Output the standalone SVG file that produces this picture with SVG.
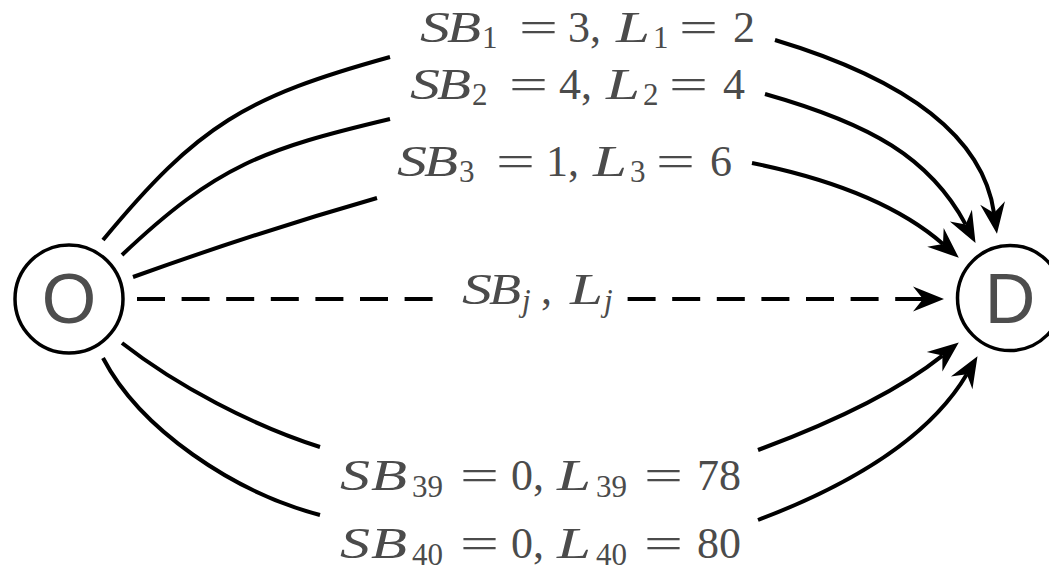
<svg xmlns="http://www.w3.org/2000/svg" width="1049" height="570" viewBox="0 0 1049 570">
<style>
.node{fill:#fff;stroke:#000;stroke-width:3.5}
.nl{font-family:"Liberation Sans",Arial,sans-serif;font-size:70px;fill:#4d4d4d;text-anchor:middle}
.e{fill:none;stroke:#000;stroke-width:4}
.d{stroke-dasharray:28 16.6}
.m{font-family:"Liberation Serif","Times New Roman",serif;font-size:44px;fill:#4b4b4b}
.i{font-style:italic}
.s{font-size:31px}
</style>
<defs>
<marker id="arr" markerUnits="userSpaceOnUse" markerWidth="40" markerHeight="30" viewBox="0 -15 40 30" refX="10" refY="0" orient="auto" overflow="visible">
<path d="M31,0 L0,-12.5 L10,0 L0,12.5 Z" fill="#000"/>
</marker>
</defs>
<g id="connectors">
<path class="e" marker-end="url(#arr)" d="M103,240 C199,124 246,97 390,57 M775,40 Q978,101 994,213"/>
<path class="e" marker-end="url(#arr)" d="M122,255 C217,165 264,149 390,119 M765,94 C871,124 930,158 965.6,224.4"/>
<path class="e" marker-end="url(#arr)" d="M133,277 Q255,233 377,198 M752,163 Q880,189 943,244"/>
<path class="e d" marker-end="url(#arr)" d="M137,299 H433 M627.6,299 H923"/>
<path class="e" marker-end="url(#arr)" d="M122,343 C177,386 253.5,426 320,447 M758,450 Q882,404 942.4,355.6"/>
<path class="e" marker-end="url(#arr)" d="M103,358 C140,429 233,492 320,515 M758,520 Q916,460 966.8,374.2"/>
</g>
<g id="labels">
<text class="m"><tspan class="i" x="420" y="42" textLength="30" lengthAdjust="spacingAndGlyphs">S</tspan><tspan class="i" x="447" textLength="34" lengthAdjust="spacingAndGlyphs">B</tspan><tspan class="s" x="482" y="48">1</tspan><tspan x="519" y="42" textLength="39" lengthAdjust="spacingAndGlyphs">=</tspan><tspan x="568">3,</tspan><tspan class="i" x="616" textLength="34" lengthAdjust="spacingAndGlyphs">L</tspan><tspan class="s" x="653" y="48">1</tspan><tspan x="679" y="42" textLength="39" lengthAdjust="spacingAndGlyphs">=</tspan><tspan x="733">2</tspan></text>
<text class="m"><tspan class="i" x="410" y="99" textLength="30" lengthAdjust="spacingAndGlyphs">S</tspan><tspan class="i" x="437" textLength="34" lengthAdjust="spacingAndGlyphs">B</tspan><tspan class="s" x="472" y="105">2</tspan><tspan x="509" y="99" textLength="39" lengthAdjust="spacingAndGlyphs">=</tspan><tspan x="559">4,</tspan><tspan class="i" x="606" textLength="34" lengthAdjust="spacingAndGlyphs">L</tspan><tspan class="s" x="643" y="105">2</tspan><tspan x="669" y="99" textLength="39" lengthAdjust="spacingAndGlyphs">=</tspan><tspan x="723">4</tspan></text>
<text class="m"><tspan class="i" x="397" y="176" textLength="30" lengthAdjust="spacingAndGlyphs">S</tspan><tspan class="i" x="424" textLength="34" lengthAdjust="spacingAndGlyphs">B</tspan><tspan class="s" x="459" y="182">3</tspan><tspan x="496" y="176" textLength="39" lengthAdjust="spacingAndGlyphs">=</tspan><tspan x="546">1,</tspan><tspan class="i" x="593" textLength="34" lengthAdjust="spacingAndGlyphs">L</tspan><tspan class="s" x="630" y="182">3</tspan><tspan x="656" y="176" textLength="39" lengthAdjust="spacingAndGlyphs">=</tspan><tspan x="710">6</tspan></text>
<text class="m"><tspan class="i" x="462" y="304" textLength="30" lengthAdjust="spacingAndGlyphs">S</tspan><tspan class="i" x="489" textLength="32" lengthAdjust="spacingAndGlyphs">B</tspan><tspan class="s i" x="522" y="311">j</tspan><tspan x="541" y="304">,</tspan><tspan class="i" x="570" textLength="33" lengthAdjust="spacingAndGlyphs">L</tspan><tspan class="s i" x="604" y="311">j</tspan></text>
<text class="m"><tspan class="i" x="340" y="490" textLength="30" lengthAdjust="spacingAndGlyphs">S</tspan><tspan class="i" x="371" textLength="36" lengthAdjust="spacingAndGlyphs">B</tspan><tspan class="s" x="412" y="497">39</tspan><tspan x="460" y="490" textLength="39" lengthAdjust="spacingAndGlyphs">=</tspan><tspan x="511">0,</tspan><tspan class="i" x="557" textLength="34" lengthAdjust="spacingAndGlyphs">L</tspan><tspan class="s" x="596" y="497">39</tspan><tspan x="644" y="490" textLength="39" lengthAdjust="spacingAndGlyphs">=</tspan><tspan x="697">78</tspan></text>
<text class="m"><tspan class="i" x="340" y="558" textLength="30" lengthAdjust="spacingAndGlyphs">S</tspan><tspan class="i" x="371" textLength="36" lengthAdjust="spacingAndGlyphs">B</tspan><tspan class="s" x="412" y="565">40</tspan><tspan x="460" y="558" textLength="39" lengthAdjust="spacingAndGlyphs">=</tspan><tspan x="511">0,</tspan><tspan class="i" x="557" textLength="34" lengthAdjust="spacingAndGlyphs">L</tspan><tspan class="s" x="596" y="565">40</tspan><tspan x="644" y="558" textLength="39" lengthAdjust="spacingAndGlyphs">=</tspan><tspan x="697">80</tspan></text>
</g>
<g id="node-O">
<circle class="node" cx="69" cy="299" r="54"/>
<text class="nl" x="69" y="323">O</text>
</g>
<g id="node-D">
<circle class="node" cx="1010" cy="298" r="52.5"/>
<text class="nl" x="1010" y="323">D</text>
</g>
</svg>
